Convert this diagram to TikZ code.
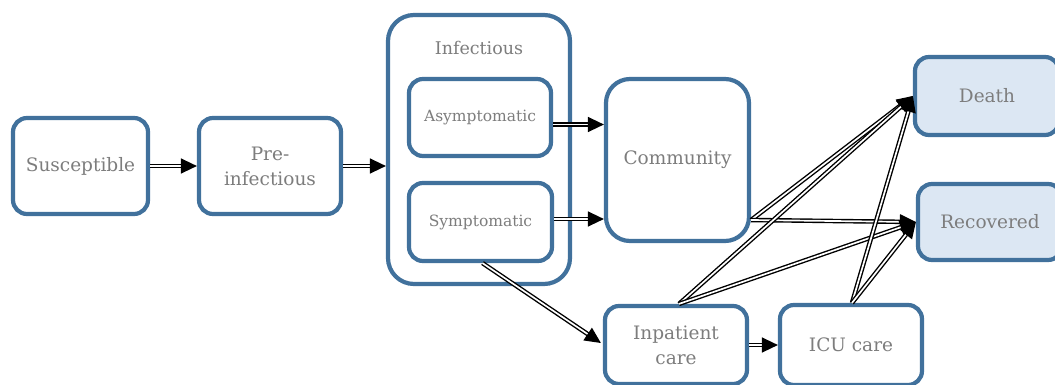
\documentclass[tikz,border=0pt]{standalone}
\usepackage{fontspec}
\setmainfont{DejaVu Serif}
\usetikzlibrary{arrows.meta,calc}
\definecolor{boxblue}{RGB}{65,113,156}
\definecolor{boxfill}{RGB}{220,231,243}
\definecolor{txtgray}{RGB}{125,125,125}
\begin{document}
\begin{tikzpicture}[x=1pt,y=-1pt,
  box/.style={draw=boxblue, line width=4.2pt, fill=white, rounded corners=14pt, text=txtgray,
    font=\fontsize{18.5}{25}\selectfont, align=center, inner sep=0pt},
  small/.style={font=\fontsize{15.5}{18}\selectfont},
  endbox/.style={box, fill=boxfill},
  flow/.style={draw=black, line width=1.4pt, double=white, double distance=1.7pt,
    -{Triangle[length=16pt,width=15pt]}}
]
\useasboundingbox (0,0) rectangle (1055,384);
% boxes
\node[box, minimum width=135pt, minimum height=96pt] (sus) at (80.5,166) {Susceptible};
\node[box, minimum width=142pt, minimum height=96pt] (pre) at (270,166) {Pre-\\infectious};
\node[box, rounded corners=26pt, minimum width=182pt, minimum height=269pt] (inf) at (479,149.5) {};
\node[text=txtgray, font=\fontsize{17.5}{20}\selectfont] (inftitle) at (479,48) {Infectious};
\node[box, small, minimum width=142pt, minimum height=77pt] (asym) at (480,117.5) {Asymptomatic};
\node[box, small, minimum width=143pt, minimum height=78pt] (sym) at (480.5,222) {Symptomatic};
\node[box, rounded corners=24pt, minimum width=143pt, minimum height=162pt] (com) at (677.5,160) {Community};
\node[endbox, minimum width=144pt, minimum height=78pt] (death) at (987,96) {Death};
\node[endbox, minimum width=144pt, minimum height=76pt] (rec) at (990,222) {Recovered};
\node[box, minimum width=142pt, minimum height=78pt] (inp) at (676,345) {Inpatient\\care};
\node[box, minimum width=142pt, minimum height=80pt] (icu) at (851,345) {ICU care};
% flows
\draw[flow] (sus.east) -- (pre.west);
\draw[flow] (pre.east) -- (pre.east -| inf.west);
\draw[flow] ($(asym.east)+(0,7)$) -- ($(asym.east -| com.west)+(0,7)$);
\draw[flow] ($(sym.east)+(0,-3)$) -- ($(sym.east -| com.west)+(0,-3)$);
\draw[flow] ($(sym.south)+(2,0)$) -- ($(inp.west)+(-2,-2)$);
\draw[flow] (inp.east) -- (icu.west);
\draw[flow] ($(com.east)+(0,60)$) -- (death.west);
\draw[flow] ($(com.east)+(0,60)$) -- (rec.west);
\draw[flow] ($(inp.north)+(3,0)$) -- (death.west);
\draw[flow] ($(inp.north)+(3,0)$) -- (rec.west);
\draw[flow] ($(icu.north)+(1,0)$) -- (death.west);
\draw[flow] ($(icu.north)+(1,0)$) -- (rec.west);
\end{tikzpicture}
\end{document}
